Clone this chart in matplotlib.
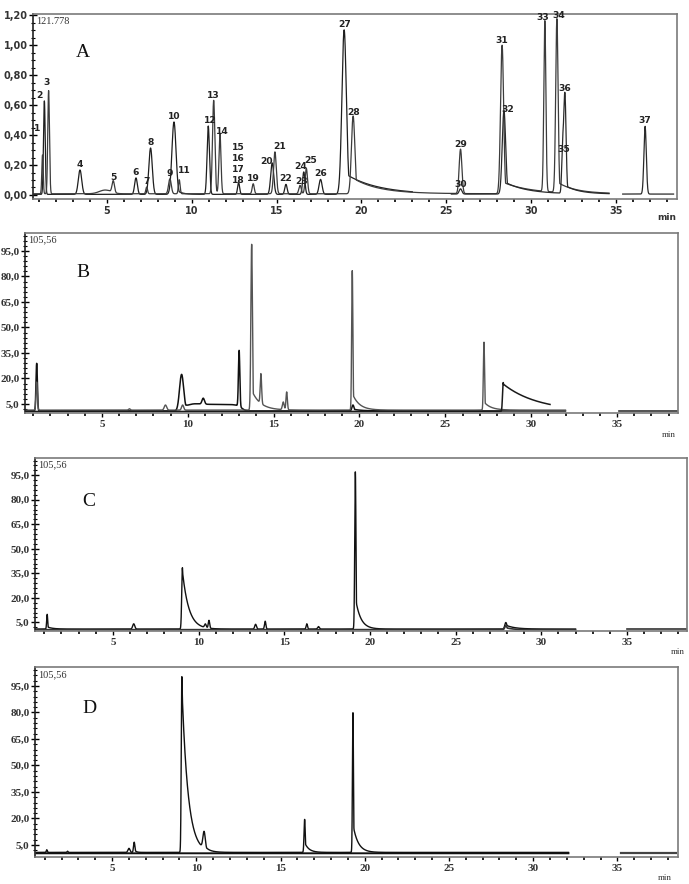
import numpy as np
import matplotlib.pyplot as plt
from matplotlib.ticker import FixedLocator, MultipleLocator, FuncFormatter

# ---- panel A : peak table (retention time / height / sigma / tail) ----
a_rt = [1.20, 1.31, 1.56, 3.41, 4.90, 5.37, 6.71, 7.34, 7.57, 8.71, 8.95, 9.26,
        10.97, 11.29, 11.66, 12.76, 13.62, 14.74, 14.90, 15.55, 16.38, 16.60,
        16.75, 17.59, 18.98, 19.51, 25.84, 25.84, 28.29, 28.40, 30.81, 31.52,
        31.85, 31.99, 36.72]
a_height = [0.26, 0.625, 0.69, 0.163, 0.025, 0.078, 0.11, 0.045, 0.31, 0.10, 0.484, 0.094,
            0.457, 0.625, 0.40, 0.078, 0.067, 0.21, 0.28, 0.067, 0.056, 0.15,
            0.17, 0.10, 1.10, 0.52, 0.297, 0.035, 0.993, 0.558, 1.142, 1.16,
            0.26, 0.67, 0.453]
a_sigma = [0.04, 0.05, 0.05, 0.10, 0.35, 0.07, 0.08, 0.05, 0.10, 0.08, 0.12, 0.05,
           0.07, 0.07, 0.06, 0.06, 0.06, 0.09, 0.08, 0.07, 0.07, 0.07,
           0.07, 0.09, 0.13, 0.10, 0.08, 0.08, 0.09, 0.10, 0.06, 0.07,
           0.05, 0.07, 0.07]
a_tail_amp = [0, 0, 0, 0, 0, 0, 0, 0, 0, 0, 0.1, 0,
              0, 0, 0, 0, 0, 0, 0, 0, 0, 0,
              0, 0, 0.13, 0.2, 0, 0, 0.08, 0.15, 0, 0.06,
              0, 0.08, 0]
a_tail_tau = [1, 1, 1, 1, 1, 1, 1, 1, 1, 1, 0.3, 1,
              1, 1, 1, 1, 1, 1, 1, 1, 1, 1,
              1, 1, 1.9, 1.5, 1, 1, 1.6, 1.3, 1, 1.0,
              1, 0.8, 1]
a_trace = [1, 0, 1, 0, 1, 1, 0, 1, 0, 1, 0, 1,
           0, 1, 1, 0, 1, 0, 1, 0, 1, 0,
           1, 0, 0, 1, 1, 2, 1, 2, 1, 1,
           2, 2, 3]
a_label = ['1', '2', '3', '4', '', '5', '6', '7', '8', '9', '10', '11',
           '12', '13', '14', '15\n16\n17\n18', '19', '20', '21', '22', '23', '24',
           '25', '26', '27', '28', '29', '30', '31', '32', '33', '34',
           '35', '36', '37']
a_span = [(0.7, 23.0), (0.7, 34.6), (25.3, 34.6), (35.4, 38.4)]
a_base = [0.004, 0.008, 0.006, 0.006]

# ---- panel B ----
b_rt = [1.20, 1.20, 6.60, 8.70, 9.64, 9.70, 10.90, 11.60, 12.99, 13.72, 14.26,
        15.56, 15.76, 19.58, 19.62, 27.25, 28.37]
b_height = [28.0, 16.5, 0.8, 3.0, 21.5, 3.0, 3.5, 3.8, 33.0, 97.5, 17.5,
            4.5, 10.5, 82.0, 3.5, 40.0, 17.0]
b_sigma = [0.04, 0.04, 0.05, 0.07, 0.12, 0.06, 0.07, 1.45, 0.04, 0.045, 0.04,
           0.05, 0.04, 0.035, 0.06, 0.035, 0.04]
b_shape = [2, 2, 2, 2, 2, 2, 2, 8, 2, 2, 2, 2, 2, 2, 2, 2, 2]
b_tail_amp = [0, 0, 0, 0, 0.25, 0, 0, 0, 0, 0.12, 0, 0, 0, 0.12, 0.3, 0.12, 0.95]
b_tail_tau = [1, 1, 1, 1, 0.4, 1, 1, 1, 1, 0.5, 1, 1, 1, 0.4, 0.5, 0.4, 2.0]
b_trace = [0, 1, 1, 1, 0, 1, 0, 0, 0, 1, 1, 1, 1, 1, 0, 1, 2]
b_span = [(0.5, 32.0), (0.5, 32.0), (0.5, 31.1), (35.1, 38.5)]
b_base = [0.9, 1.4, 0.6, 1.0]

# ---- panel C ----
c_rt = [1.17, 6.22, 9.06, 10.40, 10.61, 13.33, 13.89, 16.32, 17.00, 19.15, 27.93, 27.93]
c_height = [9.0, 3.2, 37.5, 2.2, 4.8, 2.9, 4.8, 3.2, 1.5, 96.3, 4.0, 2.5]
c_sigma = [0.03, 0.06, 0.04, 0.05, 0.04, 0.05, 0.04, 0.04, 0.05, 0.035, 0.06, 0.06]
c_tail_amp = [0.15, 0, 0.95, 0, 0, 0, 0, 0, 0, 0.2, 0.6, 0.5]
c_tail_tau = [0.3, 1, 0.37, 1, 1, 1, 1, 1, 1, 0.3, 0.5, 0.4]
c_trace = [0, 0, 0, 0, 0, 0, 0, 0, 0, 0, 0, 1]
c_span = [(0.5, 32.0), (0.5, 32.0), (35.0, 38.5)]
c_base = [0.9, 0.5, 0.8]

# ---- panel D ----
d_rt = [1.12, 2.35, 6.00, 6.31, 9.14, 10.46, 16.43, 19.30]
d_height = [1.5, 0.7, 2.3, 5.8, 99.4, 9.5, 18.7, 79.0]
d_sigma = [0.03, 0.03, 0.06, 0.04, 0.035, 0.07, 0.035, 0.03]
d_tail_amp = [0, 0, 0, 0.3, 0.95, 0.2, 0.3, 0.2]
d_tail_tau = [1, 1, 1, 0.1, 0.36, 0.2, 0.25, 0.3]
d_trace = [0, 0, 0, 0, 0, 0, 0, 0]
d_span = [(0.5, 32.1), (0.5, 32.1), (35.2, 38.5)]
d_base = [0.8, 0.3, 0.6]


def build_trace(t, rt, h, sig, tamp, ttau, shape, base):
    y = np.full_like(t, base)
    for r, hh, s, a, tau, p in zip(rt, h, sig, tamp, ttau, shape):
        g = np.exp(-0.5 * np.abs((t - r) / s) ** p)
        if a > 0:
            tail = np.where(t >= r, a * np.exp(-(t - r) / tau), 0)
            g = np.maximum(g, tail)
        y += hh * g
    return y


def draw_traces(ax, rt, h, sig, tamp, ttau, trace, span, base, colors, lws, shape=None):
    if shape is None:
        shape = [2] * len(rt)
    for i, (t0, t1) in enumerate(span):
        t = np.arange(t0, t1, 0.004)
        idx = [k for k in range(len(rt)) if trace[k] == i]
        y = build_trace(t, [rt[k] for k in idx], [h[k] for k in idx],
                        [sig[k] for k in idx], [tamp[k] for k in idx],
                        [ttau[k] for k in idx], [shape[k] for k in idx], base[i])
        ax.plot(t, y, color=colors[i], lw=lws[i])


def style_axes(ax, letter, corner, serif_ticks):
    for s in ax.spines.values():
        s.set_color('#7a7a7a')
        s.set_linewidth(1.2)
    ax.spines['left'].set_color('#222222')
    ax.xaxis.set_major_locator(FixedLocator([5, 10, 15, 20, 25, 30, 35]))
    ax.xaxis.set_minor_locator(MultipleLocator(1))
    ax.tick_params(axis='x', which='major', direction='out', length=3, width=1, pad=2)
    ax.tick_params(axis='x', which='minor', direction='out', length=2, width=1.2)
    ax.tick_params(axis='y', which='major', direction='inout', length=6, width=1, pad=1)
    ax.tick_params(axis='y', which='minor', direction='inout', length=3, width=0.8)
    if serif_ticks:
        for lab in ax.get_xticklabels() + ax.get_yticklabels():
            lab.set_fontfamily('Liberation Serif')
            lab.set_fontsize(8)
            lab.set_fontweight('bold')
            lab.set_color('#333333')
    else:
        for lab in ax.get_xticklabels() + ax.get_yticklabels():
            lab.set_fontfamily('DejaVu Sans')
            lab.set_fontsize(7)
            lab.set_fontweight('bold')
            lab.set_color('#333333')
    ax.text(0.005, 0.985, corner, transform=ax.transAxes, ha='left', va='top',
            fontsize=7.5, family='Liberation Serif', color='#333333')
    ax.text(letter[1], letter[2], letter[0], transform=ax.transAxes, ha='center', va='center',
            fontsize=14, family='Liberation Serif', color='#111111')


fig = plt.figure(figsize=(6.89, 8.84), dpi=100)

comma2 = FuncFormatter(lambda v, p: f"{v:.2f}".replace('.', ','))
comma1 = FuncFormatter(lambda v, p: f"{v:.1f}".replace('.', ','))

# ---------- A ----------
axA = fig.add_axes([33 / 689, 1 - 199 / 884, 644 / 689, 185 / 884])
draw_traces(axA, a_rt, a_height, a_sigma, a_tail_amp, a_tail_tau, a_trace, a_span, a_base,
            ['#1e1e1e', '#3c3c3c', '#2a2a2a', '#2a2a2a'], [0.9, 0.9, 0.9, 0.9])
axA.set_xlim(0.64, 38.6)
axA.set_ylim(-0.027, 1.21)
axA.yaxis.set_major_locator(MultipleLocator(0.2))
axA.yaxis.set_minor_locator(MultipleLocator(0.05))
axA.yaxis.set_major_formatter(comma2)

label_nudge = {'1': (-0.3, 0.14), '2': (-0.3, 0.0), '3': (-0.1, 0.02), '11': (0.3, 0.03),
               '12': (0.1, 0.0), '14': (0.15, -0.02), '15\n16\n17\n18': (0.0, -0.025),
               '20': (-0.33, -0.03), '21': (0.3, 0.0), '23': (0.1, -0.01), '24': (-0.2, 0.0),
               '25': (0.28, 0.02), '30': (0.0, -0.01), '32': (0.25, -0.03), '33': (-0.1, 0.0),
               '34': (0.1, 0.0), '35': (0.05, -0.0), '28': (0.0, -0.01)}
for r, hh, lab in zip(a_rt, a_height, a_label):
    if not lab:
        continue
    dx, dy = label_nudge.get(lab, (0.0, 0.0))
    axA.text(r + dx, hh + 0.012 + dy, lab, ha='center', va='bottom', fontsize=6.6,
             fontweight='bold', family='DejaVu Sans', color='#222222', linespacing=1.3)
style_axes(axA, ('A', 0.078, 0.79), '121.778', False)
axA.text(0.984, -0.10, 'min', transform=axA.transAxes, ha='center', va='center',
         fontsize=6.5, family='DejaVu Sans', fontweight='bold', color='#333333')

# ---------- B, C, D ----------
def panel_yaxis(ax):
    ax.set_ylim(-0.3, 105.56)
    ax.yaxis.set_major_locator(FixedLocator(np.arange(5, 100, 15)))
    ax.yaxis.set_minor_locator(FixedLocator(np.arange(2, 105, 3)))
    ax.yaxis.set_major_formatter(comma1)


axB = fig.add_axes([25 / 689, 1 - 413 / 884, 653 / 689, 180 / 884])
draw_traces(axB, b_rt, b_height, b_sigma, b_tail_amp, b_tail_tau, b_trace, b_span, b_base,
            ['#111111', '#555555', '#1a1a1a', '#333333'], [1.1, 1.0, 1.1, 1.2], shape=b_shape)
axB.set_xlim(0.52, 38.55)
panel_yaxis(axB)
style_axes(axB, ('B', 0.089, 0.78), '105,56', True)
axB.text(0.985, -0.12, 'min', transform=axB.transAxes, ha='center', va='center',
         fontsize=6.5, family='Liberation Serif', color='#333333')

axC = fig.add_axes([35 / 689, 1 - 631 / 884, 652 / 689, 173 / 884])
draw_traces(axC, c_rt, c_height, c_sigma, c_tail_amp, c_tail_tau, c_trace, c_span, c_base,
            ['#111111', '#333333', '#333333'], [1.0, 1.2, 1.2])
axC.set_xlim(0.46, 38.5)
panel_yaxis(axC)
style_axes(axC, ('C', 0.083, 0.75), '105,56', True)
axC.text(0.985, -0.12, 'min', transform=axC.transAxes, ha='center', va='center',
         fontsize=6.5, family='Liberation Serif', color='#333333')

axD = fig.add_axes([35 / 689, 1 - 857 / 884, 643 / 689, 190 / 884])
draw_traces(axD, d_rt, d_height, d_sigma, d_tail_amp, d_tail_tau, d_trace, d_span, d_base,
            ['#111111', '#111111', '#444444'], [1.0, 1.4, 1.6])
axD.set_xlim(0.42, 38.6)
panel_yaxis(axD)
axD.set_ylim(-1.8, 105.7)
style_axes(axD, ('D', 0.084, 0.78), '105,56', True)
axD.text(0.98, -0.11, 'min', transform=axD.transAxes, ha='center', va='center',
         fontsize=6.5, family='Liberation Serif', color='#333333')

fig.savefig('out.png', dpi=100)
